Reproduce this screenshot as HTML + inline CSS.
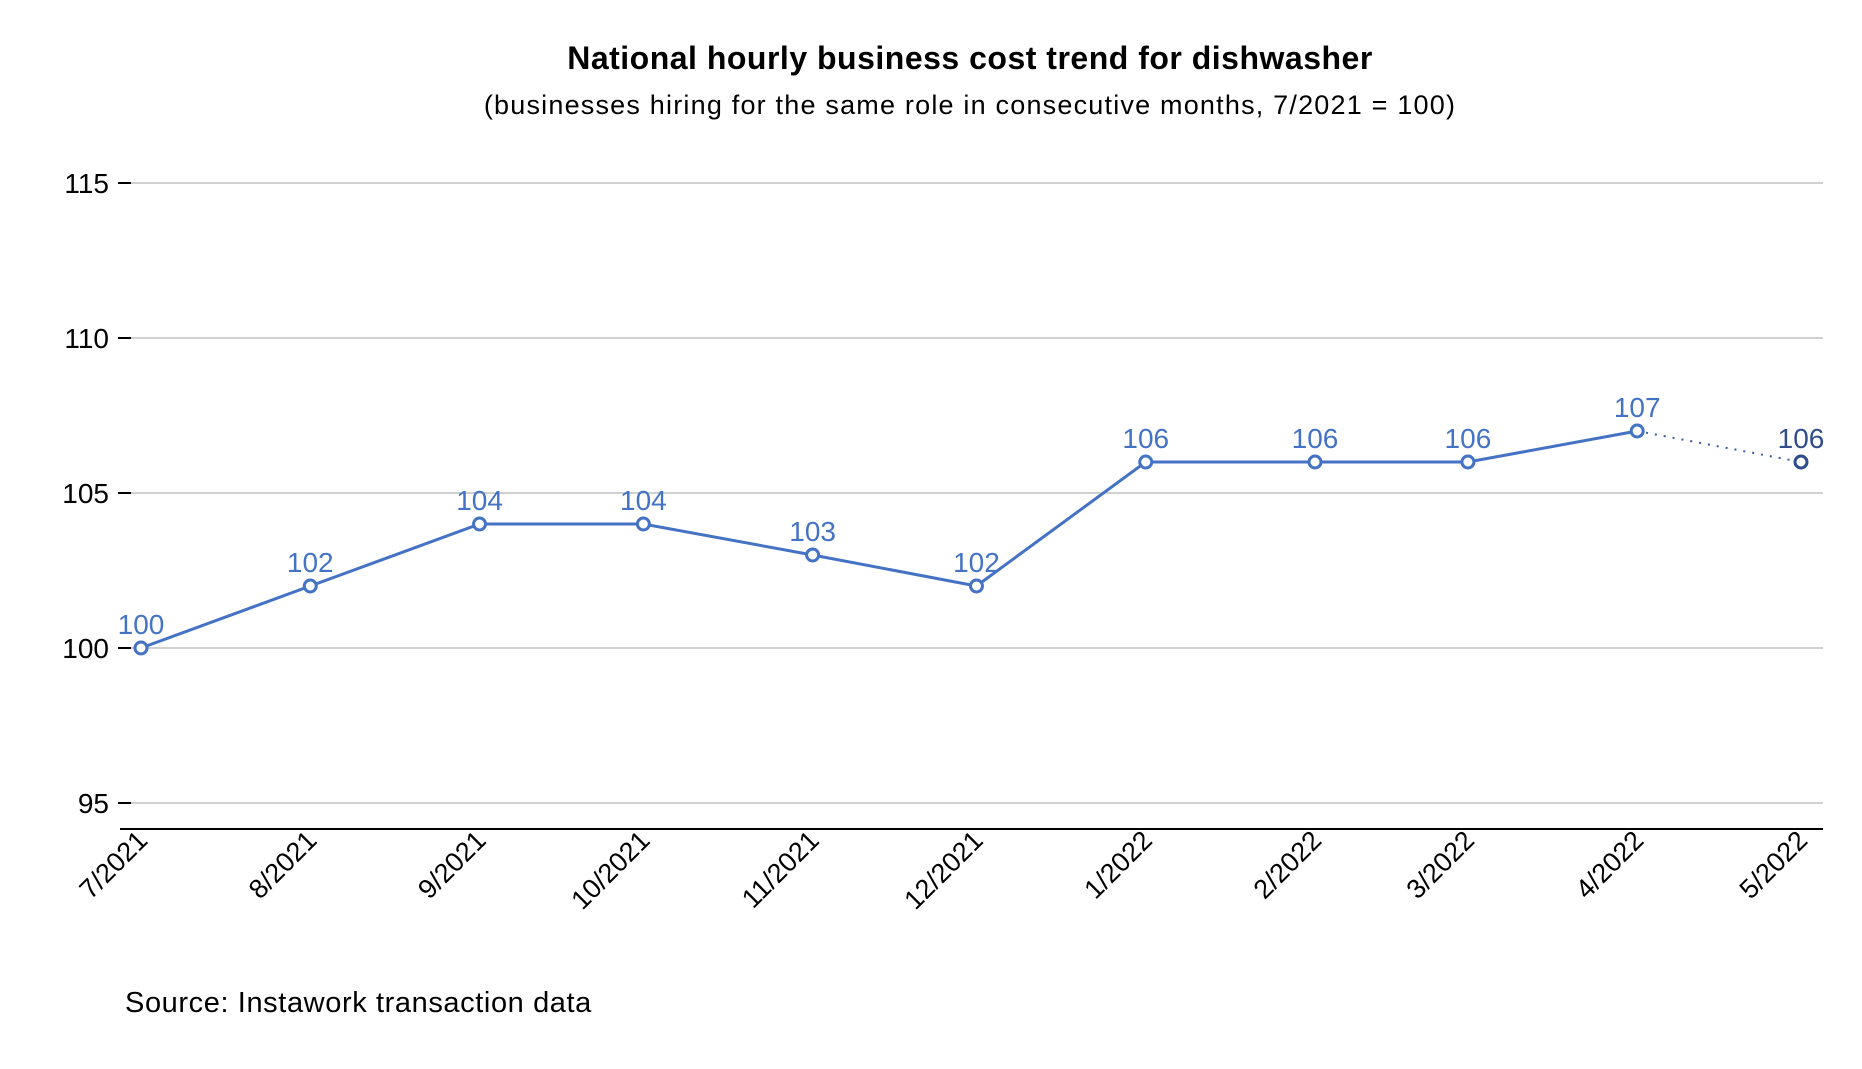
<!DOCTYPE html>
<html><head><meta charset="utf-8"><style>
body{margin:0;background:#fff;}
svg text{font-family:"Liberation Sans",sans-serif;}
</style></head><body>
<svg width="1862" height="1064" id="c">
<text x="970" y="69" text-anchor="middle" font-size="32" font-weight="bold" letter-spacing="0.5" fill="#000">National hourly business cost trend for dishwasher</text>
<text x="970" y="114" text-anchor="middle" font-size="27" letter-spacing="1.2" fill="#000">(businesses hiring for the same role in consecutive months, 7/2021 = 100)</text>
<text x="125" y="1012" font-size="29" letter-spacing="0.6" fill="#000">Source: Instawork transaction data</text>
<g id="grid"></g><g id="series"></g>
</svg>
<script>
const categories=["7/2021","8/2021","9/2021","10/2021","11/2021","12/2021","1/2022","2/2022","3/2022","4/2022","5/2022"];
const dates=["2021-07-01","2021-08-01","2021-09-01","2021-10-01","2021-11-01","2021-12-01","2022-01-01","2022-02-01","2022-03-01","2022-04-01","2022-05-01"];
const values=[100,102,104,104,103,102,106,106,106,107,106];
const yTicks=[95,100,105,110,115];
const NS="http://www.w3.org/2000/svg";
const t0=Date.parse(dates[0]),t1=Date.parse(dates[dates.length-1]);
const x=d=>141+(Date.parse(d)-t0)/(t1-t0)*(1801-141);
const y=v=>648-(v-100)*31;
const svg=document.getElementById('c'),grid=document.getElementById('grid'),ser=document.getElementById('series');
function mk(tag,attrs,parent){const e=document.createElementNS(NS,tag);for(const k in attrs)e.setAttribute(k,attrs[k]);parent.appendChild(e);return e;}
yTicks.forEach(v=>{
 const g=mk('line',{x1:120,x2:1823,y1:y(v),y2:y(v),stroke:'#c0c0c0','stroke-width':1.5},grid);
 
 
 const tk=mk('line',{x1:118,x2:131,y1:y(v),y2:y(v),stroke:'#000','stroke-width':2},grid);
 
 
 const t=mk('text',{x:109,y:y(v)+10,'text-anchor':'end','font-size':28,fill:'#000'},grid);
 t.textContent=v;
 
 
});
const ax=mk('line',{x1:120,x2:1823,y1:829,y2:829,stroke:'#000','stroke-width':2},grid);


categories.forEach((c,i)=>{
 const px=x(dates[i]);
 const t=mk('text',{x:px+8,y:842,'text-anchor':'end','font-size':27,fill:'#000',transform:`rotate(-45 ${px+8} 842)`},grid);
 t.textContent=c;
 
 
});
const n=values.length;
let pts=values.slice(0,n-1).map((v,i)=>x(dates[i])+','+y(v)).join(' ');
const pl=mk('polyline',{points:pts,fill:'none',stroke:'#4472c4','stroke-width':3},ser);


const dl=mk('line',{x1:x(dates[n-2]),y1:y(values[n-2]),x2:x(dates[n-1]),y2:y(values[n-1]),stroke:'#3b5a9a','stroke-width':2,'stroke-dasharray':'2 7'},ser);


values.forEach((v,i)=>{
 const last=i===n-1,col=last?'#2f4d8a':'#4472c4';
 const c=mk('circle',{cx:x(dates[i]),cy:y(v),r:6,fill:'#fff',stroke:col,'stroke-width':3},ser);
 
 
 const t=mk('text',{x:x(dates[i]),y:y(v)-14,'text-anchor':'middle','font-size':28,fill:col},ser);
 t.textContent=v;
 
 
});
</script>
</body></html>
